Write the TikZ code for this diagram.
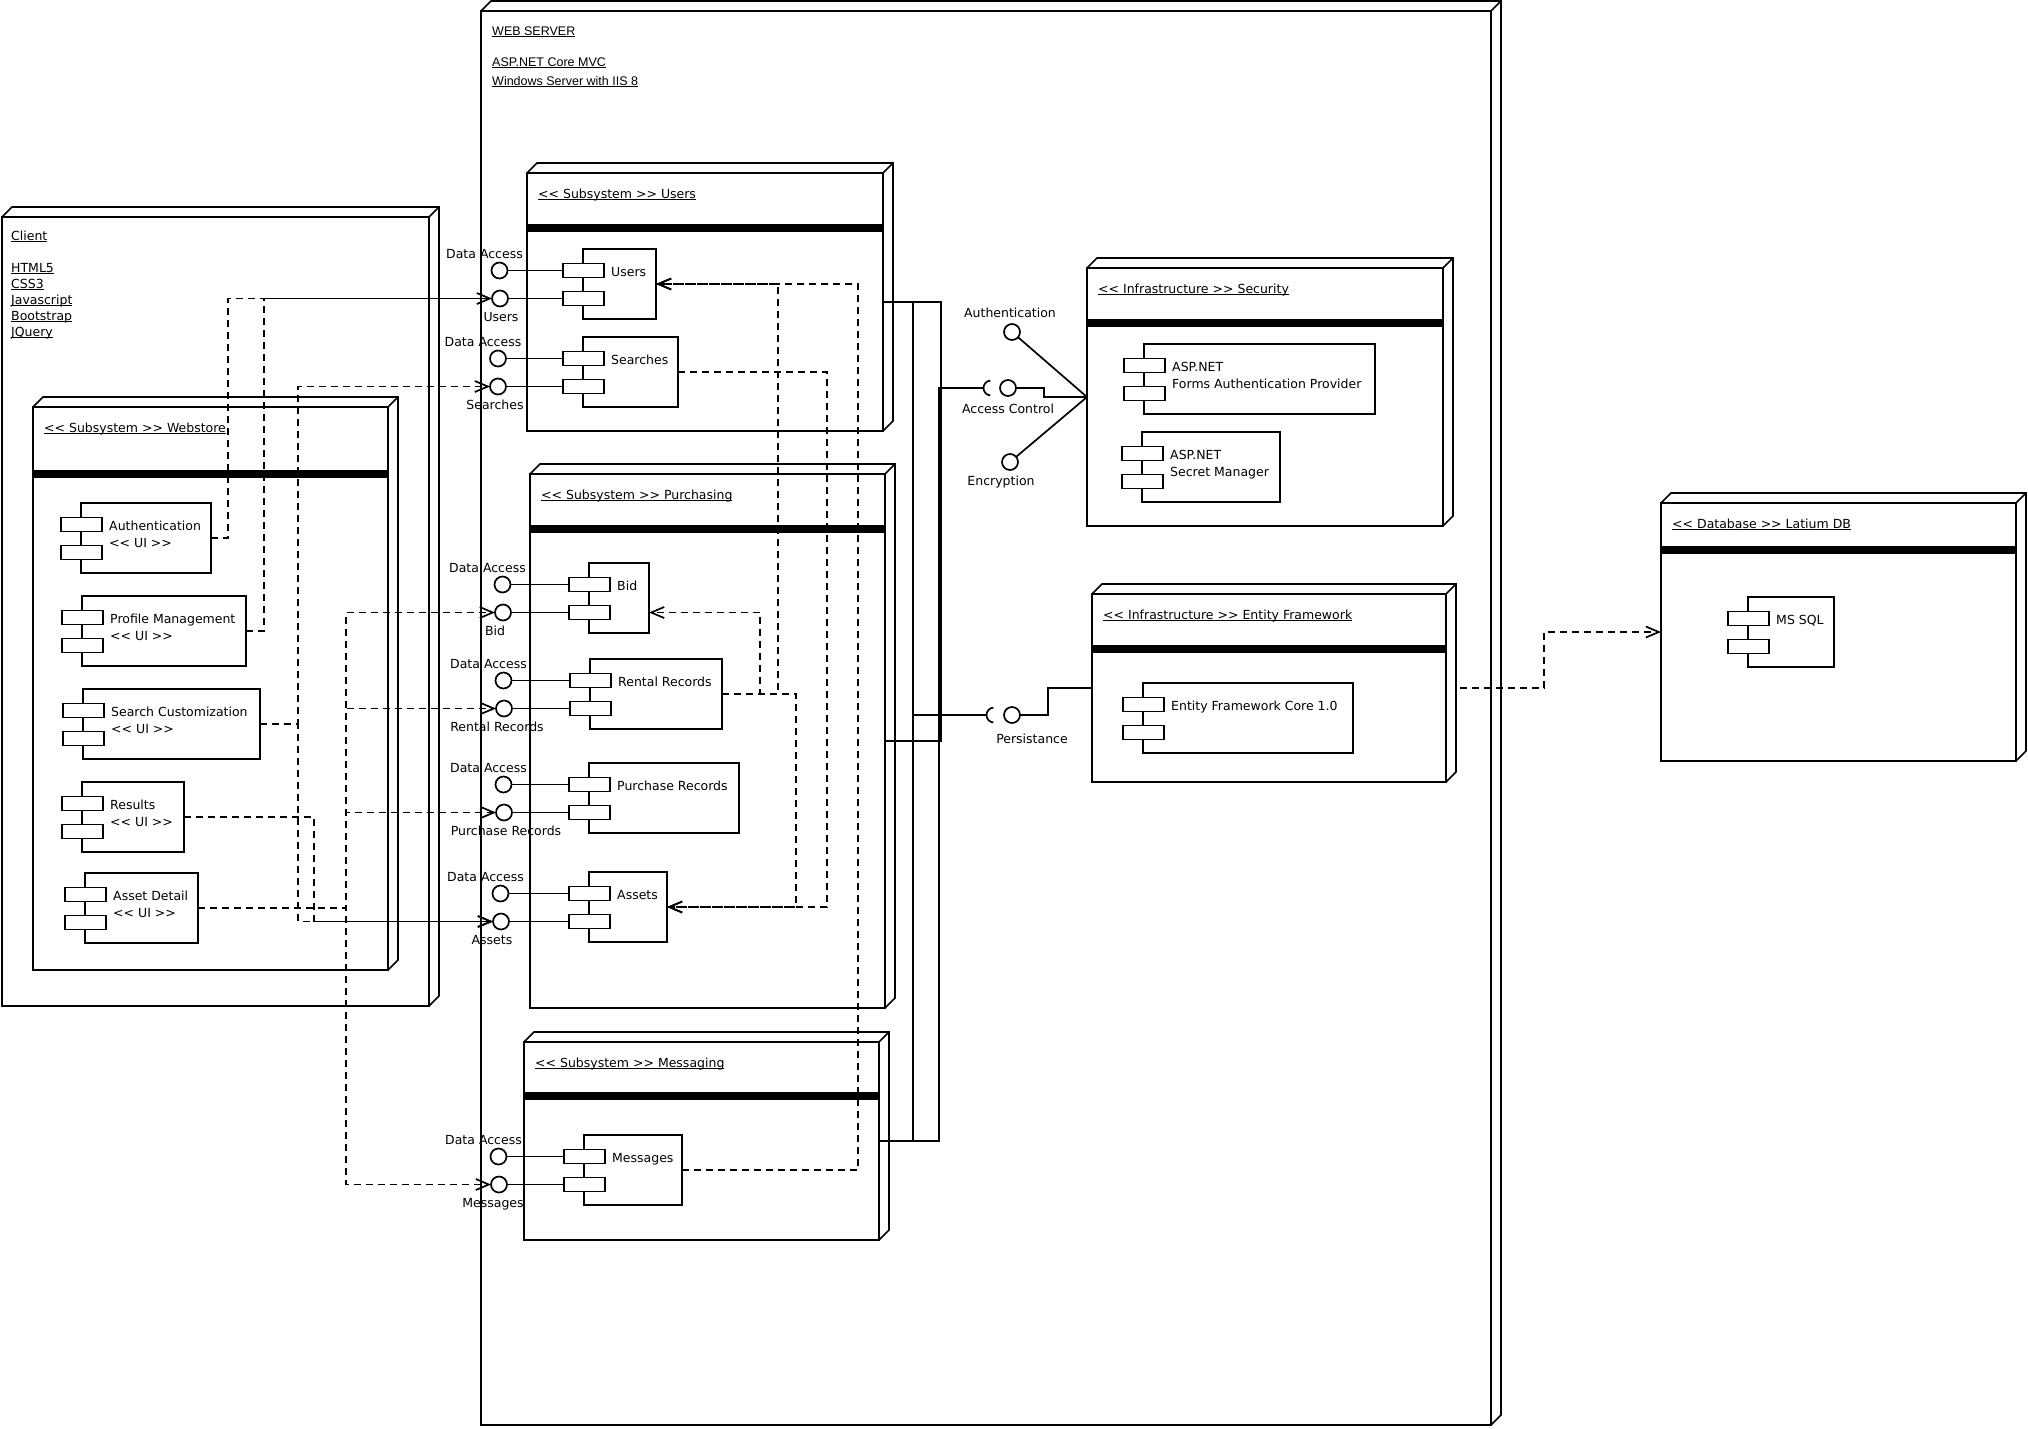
\documentclass[tikz,border=0pt]{standalone}
\usepackage{fontspec}
\usepackage{graphicx}
\usetikzlibrary{arrows.meta,calc}
\newfontfamily\dvs{DejaVu Sans}
\newfontfamily\lbs{Liberation Sans}
\newsavebox\ulbox
\newcommand\ulx[1]{\sbox\ulbox{#1}\rlap{\rule[-2pt]{\wd\ulbox}{1pt}}\usebox\ulbox}

\tikzset{
  nbox/.style={draw, fill=white, line width=1.7pt, inner sep=0pt, outer sep=0pt},
  nline/.style={line width=1.7pt, line join=miter},
  cbody/.style={draw, fill=white, line width=1.7pt, inner sep=0pt, outer sep=0pt, minimum height=70pt},
  cport/.style={draw, fill=white, line width=1.7pt, inner sep=0pt, outer sep=0pt, minimum width=41pt, minimum height=14pt},
  iface/.style={circle, draw, fill=white, line width=1.7pt, minimum size=16pt, inner sep=0pt, outer sep=0pt},
  lbl/.style={inner sep=0pt, font=\dvs\fontsize{12.5}{15}\selectfont},
  hdr/.style={inner sep=0pt, font=\lbs\fontsize{12.5}{15}\selectfont},
  wire/.style={line width=1.7pt},
  dep/.style={line width=1.7pt, dash pattern=on 7pt off 5pt},
  openhead/.style={-{Straight Barb[length=13pt,width=11pt]}},
}

% deployment node: name, left, top, right, bottom
\newcommand\depnode[5]{%
  \node[nbox, minimum width={(#4-#2)*1pt}, minimum height={(#5-#3)*1pt}, anchor=north west] (#1) at (#2,#3) {};
  \draw[nline] (#1.north west) -- ++(10pt,10pt) -| ($(#1.south east)+(10pt,10pt)$) -- (#1.south east);
  \draw[nline] (#1.north east) -- ++(10pt,10pt);
}
% node title
\newcommand\ntitle[2]{\node[lbl, anchor=base west] at ([xshift=11pt,yshift=-25pt]#1.north west) {\ulx{#2}};}
% compartment bar
\newcommand\nbar[3]{\fill ([yshift=-#2pt]#1.north west) rectangle ([yshift=-#3pt]#1.north east);}
% component: name, left, top, right, first line, second line
\newcommand\comp[6]{%
  \node[cbody, minimum width={(#4-#2)*1pt}, anchor=north west] (#1) at (#2,#3) {};
  \node[cport, anchor=north west] (#1-p1) at ({#2-20},{#3+14.5}) {};
  \node[cport, anchor=north west] (#1-p2) at ({#2-20},{#3+42.5}) {};
  \node[lbl, anchor=base west] at ({#2+28},{#3+27.5}) {#5};
  \if\relax\detokenize{#6}\relax\else
    \node[lbl, anchor=base west] at ({#2+28},{#3+44}) {#6};
  \fi
}

\begin{document}
\begin{tikzpicture}[x=1pt, y=-1pt]
\useasboundingbox (0,0) rectangle (2028,1428);

% ---------- web server ----------
\depnode{web}{481}{11}{1491}{1425}
\node[hdr, anchor=base west] at (492,35) {\ulx{WEB SERVER}};
\node[hdr, anchor=base west] at (492,66) {\ulx{ASP.NET Core MVC}};
\node[hdr, anchor=base west] at (492,85) {\ulx{Windows Server with IIS 8}};

% ---------- client ----------
\depnode{client}{2}{217}{429}{1006}
\node[lbl, anchor=base west] at (11,240) {\ulx{Client}};
\node[lbl, anchor=base west] at (11,272) {\ulx{HTML5}};
\node[lbl, anchor=base west] at (11,288) {\ulx{CSS3}};
\node[lbl, anchor=base west] at (11,304) {\ulx{Javascript}};
\node[lbl, anchor=base west] at (11,320) {\ulx{Bootstrap}};
\node[lbl, anchor=base west] at (11,336) {\ulx{JQuery}};

\depnode{webstore}{33}{407}{388}{970}
\ntitle{webstore}{<< Subsystem >> Webstore}
\nbar{webstore}{63}{71}
\comp{auth}{81}{503}{211}{Authentication}{<< UI >>}
\comp{prof}{82}{596}{246}{Profile Management}{<< UI >>}
\comp{searchc}{83}{689}{260}{Search Customization}{<< UI >>}
\comp{results}{82}{782}{184}{Results}{<< UI >>}
\comp{assetd}{85}{873}{198}{Asset Detail}{<< UI >>}

% ---------- subsystems on the web server ----------
\depnode{usersSub}{527}{173}{883}{431}
\ntitle{usersSub}{<< Subsystem >> Users}
\nbar{usersSub}{51}{59}
\comp{users}{583}{249}{656}{Users}{}
\comp{searches}{583}{337}{678}{Searches}{}

\depnode{purch}{530}{474}{885}{1008}
\ntitle{purch}{<< Subsystem >> Purchasing}
\nbar{purch}{51}{59}
\comp{bid}{589}{563}{649}{Bid}{}
\comp{rental}{590}{659}{722}{Rental Records}{}
\comp{purchase}{589}{763}{739}{Purchase Records}{}
\comp{assets}{589}{872}{667}{Assets}{}

\depnode{msg}{524}{1042}{879}{1240}
\ntitle{msg}{<< Subsystem >> Messaging}
\nbar{msg}{50}{58}
\comp{messages}{584}{1135}{682}{Messages}{}

% ---------- infrastructure ----------
\depnode{security}{1087}{268}{1443}{526}
\ntitle{security}{<< Infrastructure >> Security}
\nbar{security}{51}{59}
\comp{forms}{1144}{344}{1375}{ASP.NET}{Forms Authentication Provider}
\comp{secret}{1142}{432}{1280}{ASP.NET}{Secret Manager}

\depnode{ef}{1092}{594}{1446}{782}
\ntitle{ef}{<< Infrastructure >> Entity Framework}
\nbar{ef}{51}{59}
\comp{efcore}{1143}{683}{1353}{Entity Framework Core 1.0}{}

\depnode{latium}{1661}{503}{2016}{761}
\ntitle{latium}{<< Database >> Latium DB}
\nbar{latium}{43}{51}
\comp{mssql}{1748}{597}{1834}{MS SQL}{}

% ---------- provided interfaces of the subsystem components ----------
\node[iface] (daUsers) at (499.5,270.5) {};
\node[iface] (iUsers) at (500,298.5) {};
\node[iface] (daSearches) at (498,358.5) {};
\node[iface] (iSearches) at (498,386.5) {};
\node[iface] (daBid) at (502.5,584.5) {};
\node[iface] (iBid) at (503,612.5) {};
\node[iface] (daRental) at (503.5,680.5) {};
\node[iface] (iRental) at (504,708.5) {};
\node[iface] (daPurchase) at (503.5,784.5) {};
\node[iface] (iPurchase) at (504,812.5) {};
\node[iface] (daAssets) at (500.5,893.5) {};
\node[iface] (iAssets) at (501,921.5) {};
\node[iface] (daMessages) at (498.5,1156.5) {};
\node[iface] (iMessages) at (499,1184.5) {};

\foreach \i/\c in {Users/users,Searches/searches,Bid/bid,Rental/rental,Purchase/purchase,Assets/assets,Messages/messages}{
  \draw[wire] (da\i) -- (\c-p1);
  \draw[wire] (i\i) -- (\c-p2);
}

\foreach \x/\y in {484.5/258.5, 483/346.5, 487.5/572.5, 488.5/668.5, 488.5/772.5, 485.5/881.5, 483.5/1144.5}{
  \node[lbl, anchor=base] at (\x,\y) {Data Access};
}
\node[lbl, anchor=base] at (501,321) {Users};
\node[lbl, anchor=base] at (495,409) {Searches};
\node[lbl, anchor=base] at (495,635) {Bid};
\node[lbl, anchor=base] at (497,731) {Rental Records};
\node[lbl, anchor=base] at (506,835) {Purchase Records};
\node[lbl, anchor=base] at (492,944) {Assets};
\node[lbl, anchor=base] at (493,1207) {Messages};

% ---------- security and persistence interfaces ----------
\node[iface] (authI) at (1012,332) {};
\node[iface] (acI) at (1008,388) {};
\node[iface] (encI) at (1010,462) {};
\node[iface] (persI) at (1012,715) {};
\coordinate (acSock) at (991,388);
\coordinate (persSock) at (994,715);
\draw[wire] ([shift={(95:7.5pt)}]acSock) arc[start angle=95, end angle=265, radius=7.5pt];
\draw[wire] ([shift={(95:7.5pt)}]persSock) arc[start angle=95, end angle=265, radius=7.5pt];
\node[lbl, anchor=base] at (1010,317.5) {Authentication};
\node[lbl, anchor=base] at (1008,413.5) {Access Control};
\node[lbl, anchor=base] at (1001,485.5) {Encryption};
\node[lbl, anchor=base] at (1032,743.5) {Persistance};

\draw[wire] (authI) -- (security.west);
\draw[wire] (encI) -- (security.west);
\draw[wire] (acI) -- (1044,388) |- (security.west);
\draw[wire] (persI) -- (1048,715) |- (ef.west);

% subsystems wired to the infrastructure sockets
\draw[wire] (usersSub.east) -| (941,741) -- (purch.east);
\draw[wire] (913,302) -- (913,1141);
\draw[wire] (msg.east) -| (939,388) -- (983.5,388);
\draw[wire] (913,715) -- (986.5,715);

% ---------- client dependencies ----------
\draw[dep] (auth.east) -- (228,538) |- (264,298.5);
\draw[dep] (prof.east) -- (264,631) -- (264,298.5);
\draw[wire, openhead] (264,298.5) -- (iUsers);
\draw[dep, openhead] (searchc.east) -- (298,724) |- (iSearches);
\draw[dep, openhead] (searchc.east) -- (298,724) |- (iAssets);
\draw[dep, openhead] (results.east) -- (314,817) |- (iAssets);
\draw[dep, openhead] (assetd.east) -- (346,908) |- (iBid);
\draw[dep, openhead] (assetd.east) -- (346,908) |- (iRental);
\draw[dep, openhead] (assetd.east) -- (346,908) |- (iPurchase);
\draw[dep, openhead] (assetd.east) -- (346,908) |- (iMessages);

% ---------- dependencies between server components ----------
\draw[dep, openhead] (rental.east) -- (760,694) |- (bid.east |- iBid);
\draw[dep, openhead] (rental.east) -- (778,694) |- (users.east);
\draw[dep, openhead] (rental.east) -- (796,694) |- (assets.east);
\draw[dep, openhead] (searches.east) -- (827,372) |- (assets.east);
\draw[dep, openhead] (messages.east) -- (858,1170) |- (users.east);

% ---------- persistence to database ----------
\draw[dep, openhead] ([xshift=14pt]ef.east) -- (1544,688) |- (latium.west);
\end{tikzpicture}
\end{document}
